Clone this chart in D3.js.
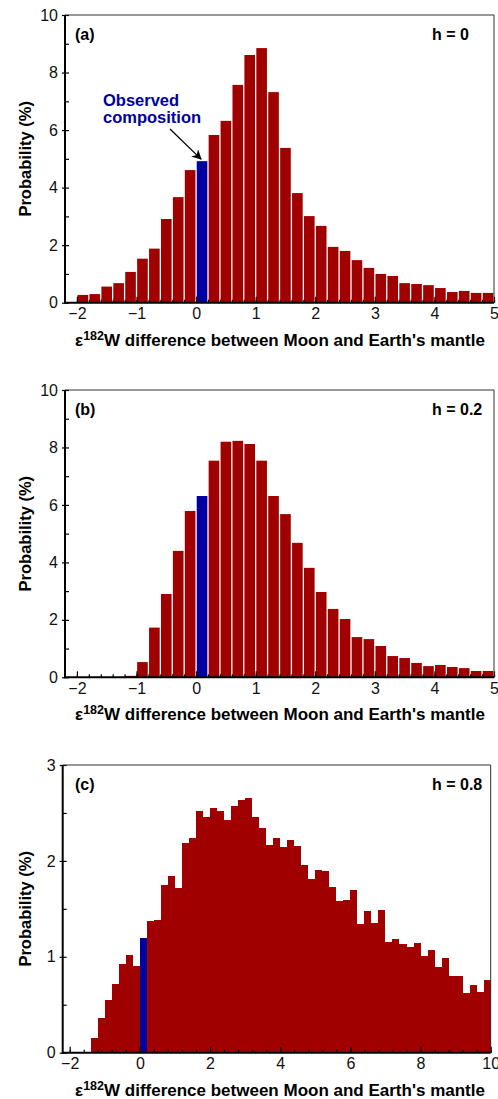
<!DOCTYPE html>
<html>
  <head>
    <meta charset="UTF-8">
    <script src="https://d3js.org/d3.v7.min.js"></script>
    <title>epsilon 182W histograms</title>
    <style>
      body { margin: 0; background: #fff; }
      text { font-family: "Liberation Sans", Arial, Helvetica, sans-serif; }
    </style>
  </head>
  <body>
    <svg class="chart"></svg>
    <script type="text/javascript">

     var width = 498,
         height = 1099,
         binWidth = 0.2;

     // bin lower edges
     var edgesAB = d3.range(35).map(function(i) { return -2 + i * binWidth; });
     var edgesC = d3.range(60).map(function(i) { return -2 + i * binWidth; });

     // probability (%) per bin
     var valuesA = [0.27, 0.30, 0.56, 0.68, 1.07, 1.53, 1.88, 2.91, 3.67, 4.61,
                    4.92, 5.83, 6.32, 7.57, 8.61, 8.85, 7.32, 5.38, 3.81, 3.01,
                    2.67, 1.94, 1.80, 1.48, 1.21, 1.00, 0.93, 0.68, 0.65, 0.61,
                    0.51, 0.37, 0.41, 0.34, 0.34];

     var valuesB = [0, 0, 0, 0, 0.05, 0.53, 1.73, 2.90, 4.40, 5.79,
                    6.31, 7.54, 8.20, 8.23, 8.12, 7.54, 6.31, 5.68, 4.68, 3.81,
                    2.97, 2.38, 2.03, 1.40, 1.33, 1.09, 0.74, 0.67, 0.50, 0.39,
                    0.43, 0.36, 0.32, 0.22, 0.22];

     var valuesC = [0, 0, 0, 0.15, 0.36, 0.55, 0.72, 0.92, 1.02, 0.90,
                    1.20, 1.37, 1.38, 1.75, 1.84, 1.72, 2.19, 2.24, 2.52, 2.46,
                    2.55, 2.52, 2.43, 2.57, 2.64, 2.66, 2.46, 2.34, 2.17, 2.24,
                    2.14, 2.22, 2.16, 1.96, 1.81, 1.90, 1.89, 1.73, 1.58, 1.59,
                    1.70, 1.34, 1.48, 1.35, 1.49, 1.15, 1.19, 1.13, 1.10, 1.14,
                    1.01, 1.07, 0.89, 0.99, 0.80, 0.80, 0.62, 0.71, 0.63, 0.76];

     var observedBin = 0.0;

     var xTicksAB = [-2, -1, 0, 1, 2, 3, 4, 5],
         xMinorAB = d3.range(-2, 5.01, 0.2),
         yTicksAB = [0, 2, 4, 6, 8, 10],
         yMinorAB = [1, 3, 5, 7, 9];

     var xTicksC = [-2, 0, 2, 4, 6, 8, 10],
         xMinorC = d3.range(-2, 10.01, 0.4),
         yTicksC = [0, 1, 2, 3],
         yMinorC = [0.5, 1.5, 2.5];

     var panelLabels = ["(a)", "(b)", "(c)"],
         hLabels = ["h = 0", "h = 0.2", "h = 0.8"];

     var red = "#a00000",
         blue = "#0000a0";

     var chart = d3.select(".chart")
                   .attr("width", width)
                   .attr("height", height);

     chart.append("defs").append("marker")
          .attr("id", "arrow")
          .attr("viewBox", "0 0 10 10")
          .attr("refX", 9).attr("refY", 5)
          .attr("markerWidth", 10).attr("markerHeight", 10)
          .attr("markerUnits", "userSpaceOnUse")
          .attr("orient", "auto")
          .append("path")
          .attr("d", "M0,0 L10,5 L0,10 L3,5 Z")
          .attr("fill", "#000");

     function drawPanel(p) {
         var g = chart.append("g");

         var x = d3.scaleLinear().domain(p.xDomain).range([p.left, p.right]);
         var y = d3.scaleLinear().domain(p.yDomain).range([p.bottom, p.top]);

         var bins = p.edges.map(function(e, i) { return {x0: e, v: p.values[i]}; })
                           .filter(function(d) { return d.v > 0; });

         g.append("g")
          .selectAll("rect")
          .data(bins)
          .enter().append("rect")
          .attr("x", function(d) { return x(d.x0) + p.gap / 2; })
          .attr("width", function(d) { return x(d.x0 + binWidth) - x(d.x0) - p.gap; })
          .attr("y", function(d) { return y(d.v); })
          .attr("height", function(d) { return y(0) - y(d.v); })
          .attr("shape-rendering", p.gap ? null : "crispEdges")
          .attr("fill", function(d) {
              return Math.abs(d.x0 - observedBin) < 1e-6 ? blue : red; });

         // minor ticks
         var xMinor = g.append("g")
          .attr("transform", "translate(0," + p.bottom + ")")
          .call(d3.axisBottom(x).tickValues(p.xMinor).tickSize(-3).tickFormat(""));
         var yMinor = g.append("g")
          .attr("transform", "translate(" + p.left + ",0)")
          .call(d3.axisLeft(y).tickValues(p.yMinor).tickSize(-4).tickFormat(""));

         // major ticks
         var xAxis = g.append("g")
          .attr("transform", "translate(0," + p.bottom + ")")
          .call(d3.axisBottom(x).tickValues(p.xTicks).tickSize(-6).tickPadding(5)
                .tickFormat(d3.format("d")));
         var yAxis = g.append("g")
          .attr("transform", "translate(" + p.left + ",0)")
          .call(d3.axisLeft(y).tickValues(p.yTicks).tickSize(-5).tickPadding(7)
                .tickFormat(d3.format("d")));

         [xMinor, yMinor, xAxis, yAxis].forEach(function(a) {
             a.select(".domain").remove();
             a.selectAll("line").attr("stroke", "#000").attr("stroke-width", 1.2);
             a.selectAll("text").attr("fill", "#111").style("font-size", "16px");
         });
         yAxis.selectAll(".tick line").attr("x2", 0);
         yAxis.selectAll(".tick").append("line")
              .attr("x1", -3).attr("x2", 4)
              .attr("stroke", "#000").attr("stroke-width", 1.2);

         // frame
         g.append("path")
          .attr("d", "M" + p.left + "," + p.top + " H" + p.right + " V" + p.bottom)
          .attr("fill", "none").attr("stroke", "#333").attr("stroke-width", 1);
         g.append("path")
          .attr("d", "M" + p.left + "," + p.top + " V" + p.bottom + " H" + p.right)
          .attr("fill", "none").attr("stroke", "#000").attr("stroke-width", 2);

         g.append("text")
          .attr("x", 75).attr("y", p.top + 25)
          .style("font-size", "16px").style("font-weight", "bold")
          .text(p.label);
         g.append("text")
          .attr("x", 432).attr("y", p.top + 25)
          .style("font-size", "16px").style("font-weight", "bold")
          .text(p.hText);

         g.append("text")
          .attr("transform", "translate(31," + ((p.top + p.bottom) / 2) + ") rotate(-90)")
          .attr("text-anchor", "middle")
          .style("font-size", "16.5px").style("font-weight", "bold")
          .text("Probability (%)");

         var xl = g.append("text")
          .attr("x", (65 + 494) / 2 + 0.5).attr("y", p.bottom + 43)
          .attr("text-anchor", "middle")
          .style("font-size", "17px").style("font-weight", "bold");
         xl.append("tspan").text("\u03b5");
         xl.append("tspan").attr("dy", -6).style("font-size", "12.5px").text("182");
         xl.append("tspan").attr("dy", 6).text("W difference between Moon and Earth's mantle");

         return {x: x, y: y, g: g};
     }

     var pa = drawPanel({
         left: 65, right: 494, top: 15, bottom: 302.7,
         xDomain: [-2.2, 5], yDomain: [0, 10],
         edges: edgesAB, values: valuesA, gap: 1.3,
         xTicks: xTicksAB, xMinor: xMinorAB, yTicks: yTicksAB, yMinor: yMinorAB,
         label: panelLabels[0], hText: hLabels[0]
     });

     drawPanel({
         left: 65, right: 494, top: 390, bottom: 677.3,
         xDomain: [-2.2, 5], yDomain: [0, 10],
         edges: edgesAB, values: valuesB, gap: 1.3,
         xTicks: xTicksAB, xMinor: xMinorAB, yTicks: yTicksAB, yMinor: yMinorAB,
         label: panelLabels[1], hText: hLabels[1]
     });

     drawPanel({
         left: 62.7, right: 490.7, top: 765, bottom: 1052.7,
         xDomain: [-2.2, 10], yDomain: [0, 3],
         edges: edgesC, values: valuesC, gap: 0,
         xTicks: xTicksC, xMinor: xMinorC, yTicks: yTicksC, yMinor: yMinorC,
         label: panelLabels[2], hText: hLabels[2]
     });

     // observed composition annotation on panel (a)
     var obsTop = pa.y(valuesA[edgesAB.indexOf(observedBin)]);
     var obsX = pa.x(observedBin + binWidth / 2);
     var note = pa.g.append("text")
          .attr("x", 103).attr("y", 106)
          .attr("fill", blue)
          .style("font-size", "16.5px").style("font-weight", "bold");
     note.append("tspan").attr("x", 103).text("Observed");
     note.append("tspan").attr("x", 103).attr("dy", 17).text("composition");

     pa.g.append("line")
         .attr("x1", 170).attr("y1", 129)
         .attr("x2", obsX - 1).attr("y2", obsTop - 2)
         .attr("stroke", "#000").attr("stroke-width", 1.3)
         .attr("marker-end", "url(#arrow)");

    </script>
  </body>
</html>
